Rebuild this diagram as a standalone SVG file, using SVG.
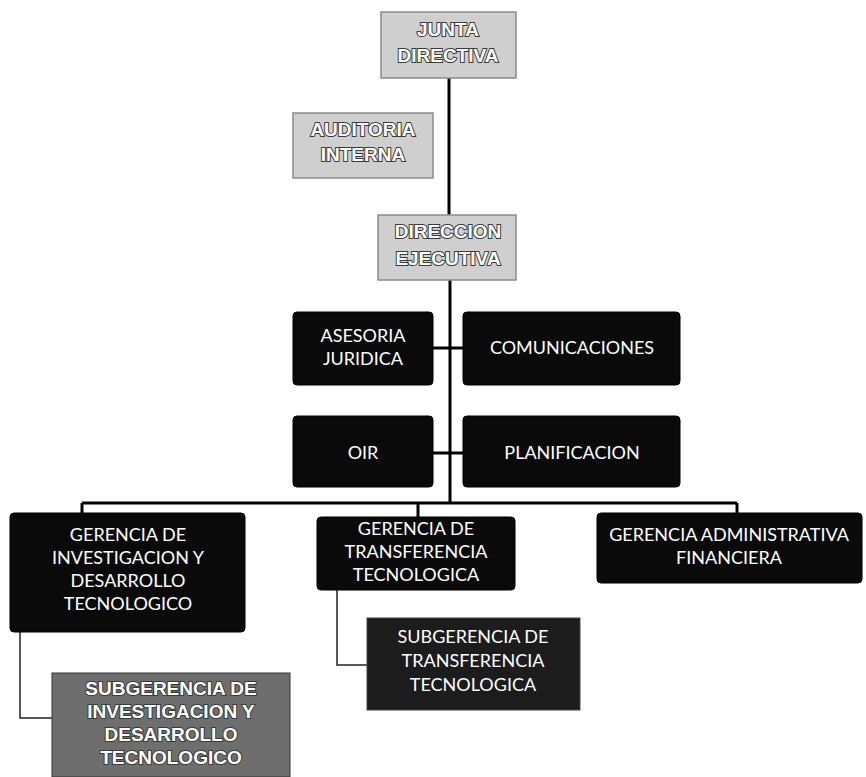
<svg xmlns="http://www.w3.org/2000/svg" width="866" height="777" viewBox="0 0 866 777">
<style>
.dark{fill:#0a0a0a;stroke:#000;stroke-width:1}
.gray{fill:#cfcfcf;stroke:#8a8a8a;stroke-width:1.5}
.mid{fill:#6e6e6e;stroke:#333;stroke-width:1}
.sub{fill:#1c1c1c;stroke:#444;stroke-width:1}
.t{font-family:Lato,"Open Sans","Liberation Sans",sans-serif;font-size:18px;fill:#fff;text-anchor:middle}
.tg{font-family:"Liberation Sans",Arial,sans-serif;font-size:19px;font-weight:bold;fill:#fff;stroke:#3a3a3a;stroke-width:2;paint-order:stroke;text-anchor:middle}
.conn{fill:none;stroke:#000;stroke-width:3}
.conn2{fill:none;stroke:#222;stroke-width:1.5}
</style>
<rect width="866" height="777" fill="#fff"/>
<g id="connectors">
<path class="conn" d="M449 78 V215"/>
<path class="conn" d="M450 280 V503"/>
<path class="conn" d="M433 348 H463"/>
<path class="conn" d="M433 453 H463"/>
<path class="conn" d="M82 503 H737"/>
<path class="conn" d="M82 503 V513"/>
<path class="conn" d="M418 503 V517"/>
<path class="conn" d="M737 503 V513"/>
<path class="conn2" d="M337 590 V665 H367"/>
<path class="conn2" d="M20 632 V718 H52"/>
</g>
<g id="junta">
<rect class="gray" x="381" y="12" width="135" height="66"/>
<text class="tg" x="448" y="36">JUNTA</text>
<text class="tg" x="448" y="62">DIRECTIVA</text>
</g>
<g id="auditoria">
<rect class="gray" x="293" y="113" width="140" height="65"/>
<text class="tg" x="363" y="136">AUDITORIA</text>
<text class="tg" x="363" y="161">INTERNA</text>
</g>
<g id="direccion">
<rect class="gray" x="378" y="215" width="138" height="65"/>
<text class="tg" x="448" y="238">DIRECCION</text>
<text class="tg" x="448" y="265">EJECUTIVA</text>
</g>
<g id="asesoria">
<rect class="dark" x="293" y="312" width="140" height="73" rx="4"/>
<text class="t" x="363" y="342">ASESORIA</text>
<text class="t" x="363" y="365">JURIDICA</text>
</g>
<g id="comunicaciones">
<rect class="dark" x="463" y="312" width="217" height="73" rx="4"/>
<text class="t" x="572" y="354">COMUNICACIONES</text>
</g>
<g id="oir">
<rect class="dark" x="293" y="416" width="140" height="71" rx="4"/>
<text class="t" x="363" y="459">OIR</text>
</g>
<g id="planificacion">
<rect class="dark" x="463" y="416" width="217" height="71" rx="4"/>
<text class="t" x="572" y="459">PLANIFICACION</text>
</g>
<g id="gerencia-investigacion">
<rect class="dark" x="10" y="513" width="235" height="119" rx="4"/>
<text class="t" x="128" y="541">GERENCIA DE</text>
<text class="t" x="128" y="564">INVESTIGACION Y</text>
<text class="t" x="128" y="587">DESARROLLO</text>
<text class="t" x="128" y="610">TECNOLOGICO</text>
</g>
<g id="gerencia-transferencia">
<rect class="dark" x="317" y="517" width="198" height="73" rx="4"/>
<text class="t" x="416" y="535">GERENCIA DE</text>
<text class="t" x="416" y="558">TRANSFERENCIA</text>
<text class="t" x="416" y="581">TECNOLOGICA</text>
</g>
<g id="gerencia-administrativa">
<rect class="dark" x="597" y="513" width="265" height="70" rx="4"/>
<text class="t" x="729" y="541">GERENCIA ADMINISTRATIVA</text>
<text class="t" x="729" y="564">FINANCIERA</text>
</g>
<g id="subgerencia-transferencia">
<rect class="sub" x="367" y="618" width="213" height="92"/>
<text class="t" x="473" y="643">SUBGERENCIA DE</text>
<text class="t" x="473" y="667">TRANSFERENCIA</text>
<text class="t" x="473" y="691">TECNOLOGICA</text>
</g>
<g id="subgerencia-investigacion">
<rect class="mid" x="52" y="673" width="238" height="104"/>
<text class="tg" x="171" y="695">SUBGERENCIA DE</text>
<text class="tg" x="171" y="718">INVESTIGACION Y</text>
<text class="tg" x="171" y="741">DESARROLLO</text>
<text class="tg" x="171" y="764">TECNOLOGICO</text>
</g>
</svg>
